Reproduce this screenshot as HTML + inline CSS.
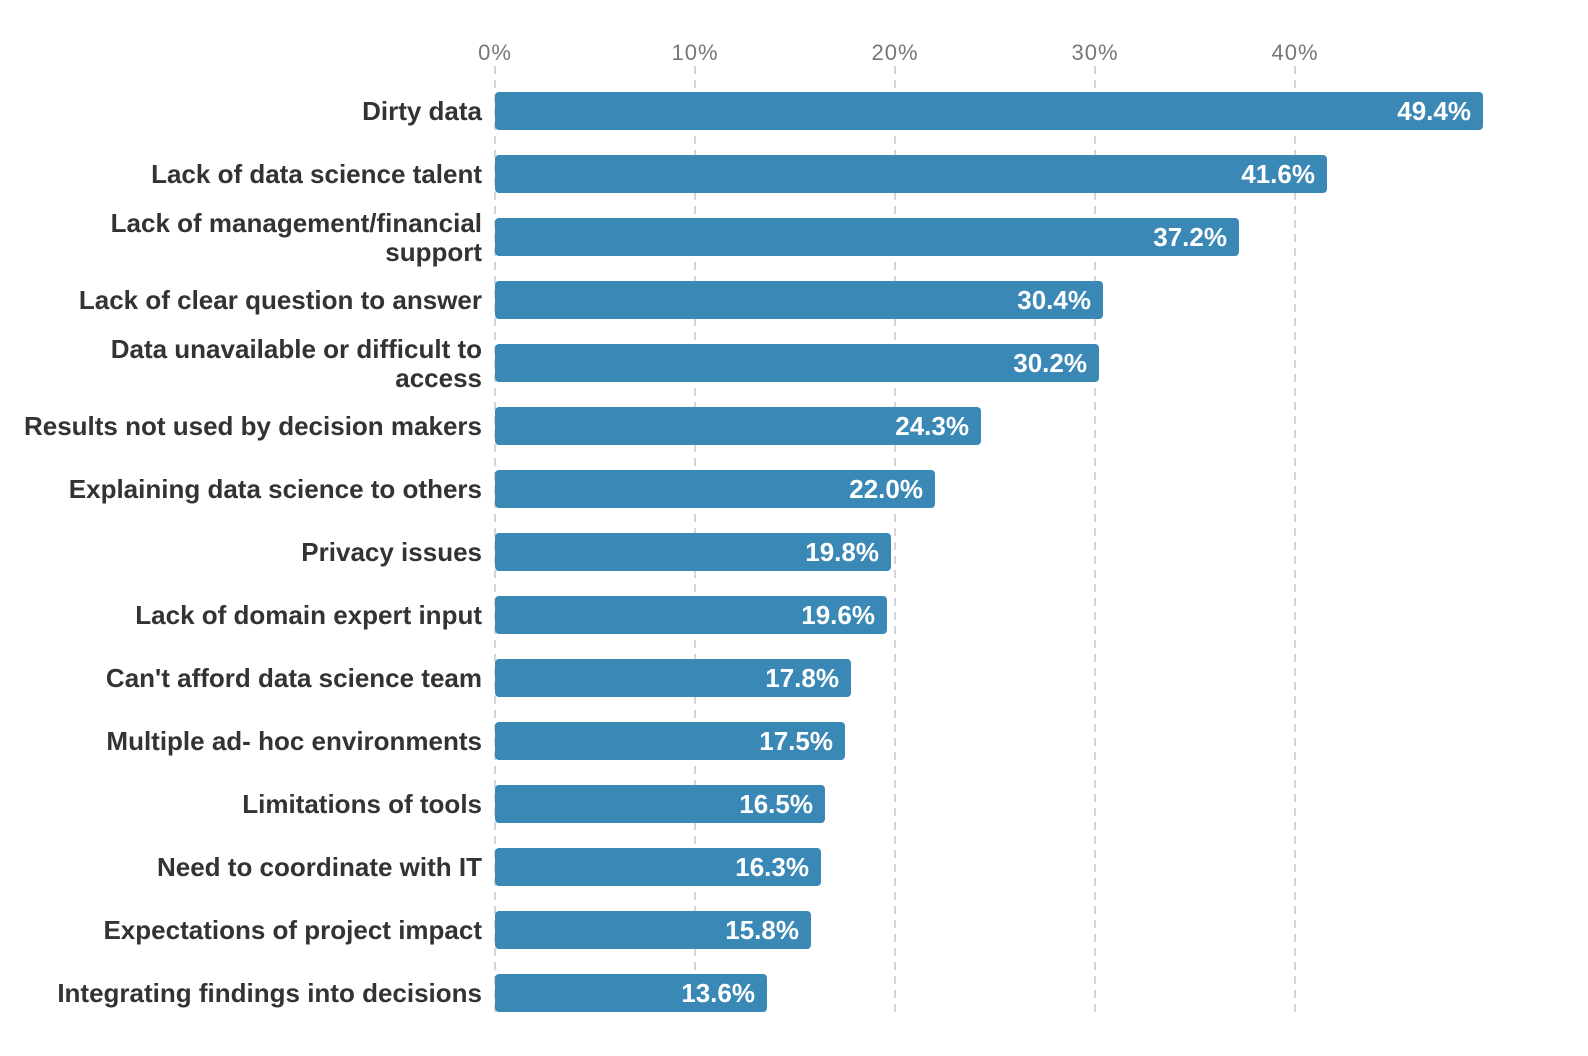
<!DOCTYPE html>
<html><head><meta charset="utf-8"><style>
html,body{margin:0;padding:0;background:#fff;width:1588px;height:1056px;overflow:hidden}
svg text{font-family:"Liberation Sans",sans-serif}
</style></head><body>
<svg id="chart" width="1588" height="1056" xmlns="http://www.w3.org/2000/svg"></svg>
<script>
const categories=["Dirty data","Lack of data science talent","Lack of management/financial|support","Lack of clear question to answer","Data unavailable or difficult to|access","Results not used by decision makers","Explaining data science to others","Privacy issues","Lack of domain expert input","Can't afford data science team","Multiple ad- hoc environments","Limitations of tools","Need to coordinate with IT","Expectations of project impact","Integrating findings into decisions"];
const values=[49.4,41.6,37.2,30.4,30.2,24.3,22.0,19.8,19.6,17.8,17.5,16.5,16.3,15.8,13.6];
const valueLabels=["49.4%","41.6%","37.2%","30.4%","30.2%","24.3%","22.0%","19.8%","19.6%","17.8%","17.5%","16.5%","16.3%","15.8%","13.6%"];
const ticks=[0,10,20,30,40];
const tickLabels=["0%","10%","20%","30%","40%"];

const svg=document.getElementById('chart');
const NS='http://www.w3.org/2000/svg';
const x0=495, pxPer=20.0, top0=92, step=63, bh=38;
const x=v=>x0+v*pxPer;
const y=i=>top0+i*step;
function mk(t,a){const e=document.createElementNS(NS,t);for(const k in a)e.setAttribute(k,a[k]);svg.appendChild(e);return e;}
ticks.forEach((t,i)=>{
  const g=mk('line',{x1:x(t),x2:x(t),y1:66,y2:1014,stroke:'#d6d6d6','stroke-width':2,'stroke-dasharray':'8,6'});
  
  
  const tl=mk('text',{x:x(t),y:60,'text-anchor':'middle','font-size':22,fill:'#777','letter-spacing':'1'});
  tl.textContent=tickLabels[i];
  
  
});
categories.forEach((c,i)=>{
  const r=mk('rect',{x:x(0),y:y(i),width:x(values[i])-x(0),height:bh,rx:4,fill:'#3a88b6'});
  
  
  const v=mk('text',{x:x(values[i])-12,y:y(i)+bh/2+9,'text-anchor':'end','font-size':26,'font-weight':'bold',fill:'#fff'});
  v.textContent=valueLabels[i];
  
  
  const parts=c.split('|');
  const cy=y(i)+bh/2;
  parts.forEach((p,j)=>{
    const yy=parts.length===1?cy+9:cy-5+j*29;
    const t=mk('text',{x:482,y:yy,'text-anchor':'end','font-size':26,'font-weight':'bold',fill:'#333'});
    t.textContent=p;
    
    
  });
});
</script>
</body></html>
